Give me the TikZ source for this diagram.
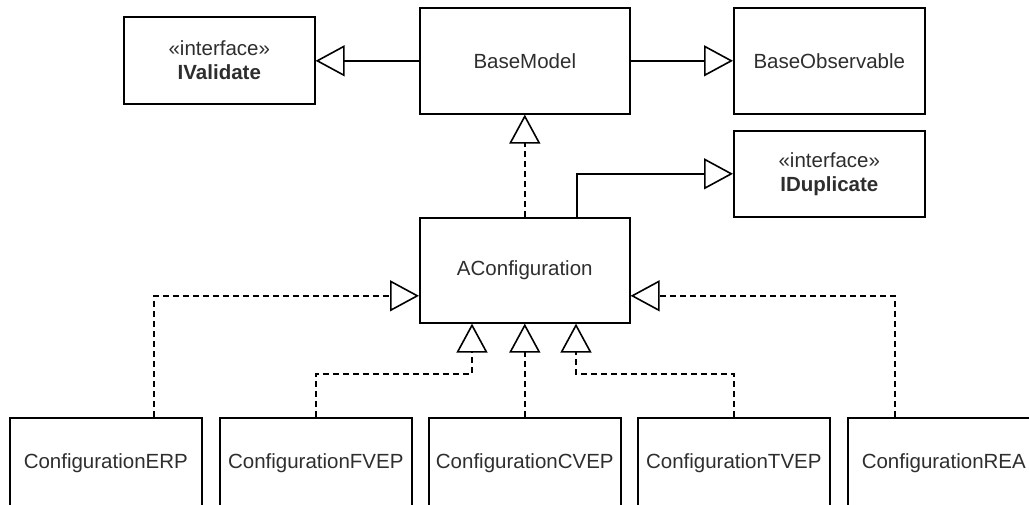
\documentclass[tikz,border=0pt]{standalone}
\usepackage{fontspec}
\setmainfont{Liberation Sans}
\usetikzlibrary{arrows.meta,calc}
\begin{document}
\begin{tikzpicture}[x=1pt,y=-1pt,
  box/.style={draw=black, line width=1.6pt, inner sep=0pt, anchor=north west,
    align=center, font=\fontsize{20.5pt}{24pt}\selectfont, text=black!82},
  classbox/.style={box, minimum width=191pt, minimum height=87pt},
  mainbox/.style={box, minimum width=210pt, minimum height=106pt},
  leafbox/.style={box, minimum width=192pt, minimum height=90pt},
  gen/.style={line width=1.6pt, line join=miter,
    -{Triangle[open,length=29pt,width=31pt]}},
  realize/.style={gen, dash pattern=on 6pt off 4pt}]
\useasboundingbox (0,0) rectangle (1029,504);

% upper classes
\node[classbox] (iv) at (123,16) {«interface»\\\textbf{IValidate}};
\node[mainbox, minimum height=106pt] (bm) at (419,7) {BaseModel};
\node[classbox, minimum height=106pt] (bo) at (733,7) {BaseObservable};
\node[classbox, minimum height=86pt] (idup) at (733,130) {«interface»\\\textbf{IDuplicate}};
\node[mainbox, minimum height=105pt] (ac) at (419,217) {AConfiguration};

% concrete configurations (their lower edges run past the page)
\node[leafbox] (erp)  at (9,417)   {ConfigurationERP};
\node[leafbox] (fvep) at (219,417) {ConfigurationFVEP};
\node[leafbox] (cvep) at (428,417) {ConfigurationCVEP};
\node[leafbox] (tvep) at (637,417) {ConfigurationTVEP};
\node[leafbox] (rea)  at (847,417) {ConfigurationREA};

% bend points of the lower realizations
\coordinate (jl) at (472,374);
\coordinate (jr) at (576,374);

% generalizations
\draw[gen] (bm.west) -- (bm.west -| iv.east);
\draw[gen] (bm.east) -- (bo.west);
\draw[gen] ([xshift=52pt]ac.north) |- (idup.west);

% realizations
\draw[realize] (ac.north) -- (bm.south);
\draw[realize] ([xshift=145pt]erp.north west) |- ([yshift=-25.5pt]ac.west);
\draw[realize] (fvep.north) |- (jl) -- (jl |- ac.south);
\draw[realize] (cvep.north) -- (cvep.north |- ac.south);
\draw[realize] (tvep.north) |- (jr) -- (jr |- ac.south);
\draw[realize] ([xshift=48pt]rea.north west) |- ([yshift=-25.5pt]ac.east);
\end{tikzpicture}
\end{document}
